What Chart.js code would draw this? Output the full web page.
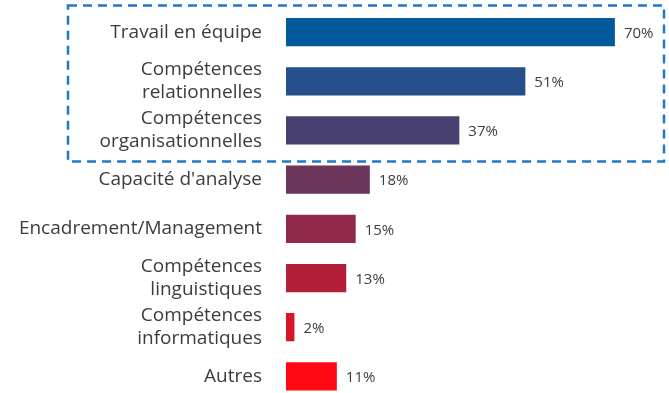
<!DOCTYPE html>
<html>
<head>
<meta charset="utf-8">
<script src="https://cdn.jsdelivr.net/npm/chart.js@4/dist/chart.umd.min.js"></script>
<style>
  html, body { margin: 0; padding: 0; background: #fff; overflow: hidden; }
  #wrap { position: relative; width: 669px; height: 401px; }
</style>
</head>
<body>
<div id="wrap"><canvas id="skills"></canvas></div>
<script>
var categories = [
  'Travail en équipe',
  ['Compétences', 'relationnelles'],
  ['Compétences', 'organisationnelles'],
  "Capacité d'analyse",
  'Encadrement/Management',
  ['Compétences', 'linguistiques'],
  ['Compétences', 'informatiques'],
  'Autres'
];
var percentages = [70, 51, 37, 18, 15, 13, 2, 11];
var barColors = ['#005a9c', '#254f8a', '#48406e', '#6b355c', '#912a4a', '#b41f38', '#d81428', '#ff0a14'];

var textColor = '#3c3c3c';
var fontFamily = '"Open Sans", Roboto, sans-serif';

// writes "NN%" just past the end of each bar
var valueLabels = {
  id: 'valueLabels',
  afterDatasetsDraw: function(chart) {
    var ctx = chart.ctx;
    var meta = chart.getDatasetMeta(0);
    ctx.save();
    ctx.font = '15px ' + fontFamily;
    ctx.fillStyle = textColor;
    ctx.textAlign = 'left';
    ctx.textBaseline = 'middle';
    meta.data.forEach(function(bar, i) {
      ctx.fillText(percentages[i] + '%', bar.x + 8, bar.y + 1.5);
    });
    ctx.restore();
  }
};

// dashed frame around the first three categories
var highlightBox = {
  id: 'highlightBox',
  afterDraw: function(chart) {
    var y = chart.scales.y;
    var step = y.getPixelForValue(1) - y.getPixelForValue(0);
    var top = y.getPixelForValue(0) - step / 2 - 2;
    var bottom = y.getPixelForValue(2) + step / 2 + 6.5;
    var ctx = chart.ctx;
    ctx.save();
    ctx.strokeStyle = '#1f78c8';
    ctx.lineWidth = 2.5;
    ctx.setLineDash([9, 6]);
    ctx.strokeRect(68, top, chart.width - 68 - 5, bottom - top);
    ctx.restore();
  }
};

new Chart(document.getElementById('skills'), {
  type: 'bar',
  data: {
    labels: categories,
    datasets: [{
      data: percentages,
      backgroundColor: barColors,
      borderColor: 'rgba(255,255,255,0.35)',
      borderWidth: 1,
      barPercentage: 0.77,
      categoryPercentage: 0.8
    }]
  },
  options: {
    indexAxis: 'y',
    responsive: true,
    maintainAspectRatio: false,
    animation: false,
    layout: { padding: { top: 7.5, right: 6, bottom: 0, left: 0 } },
    plugins: {
      legend: { display: false },
      tooltip: { enabled: false }
    },
    scales: {
      x: {
        display: false,
        min: 0,
        max: 80
      },
      y: {
        grid: { display: false, drawTicks: false },
        border: { display: false },
        afterFit: function(scale) {
          scale.width = 286;
          scale.paddingTop = 0;
          scale.paddingBottom = 0;
        },
        ticks: {
          autoSkip: false,
          padding: 24,
          color: textColor,
          font: { family: fontFamily, size: 19, lineHeight: 1.22 }
        }
      }
    }
  },
  plugins: [valueLabels, highlightBox]
});
</script>
</body>
</html>
